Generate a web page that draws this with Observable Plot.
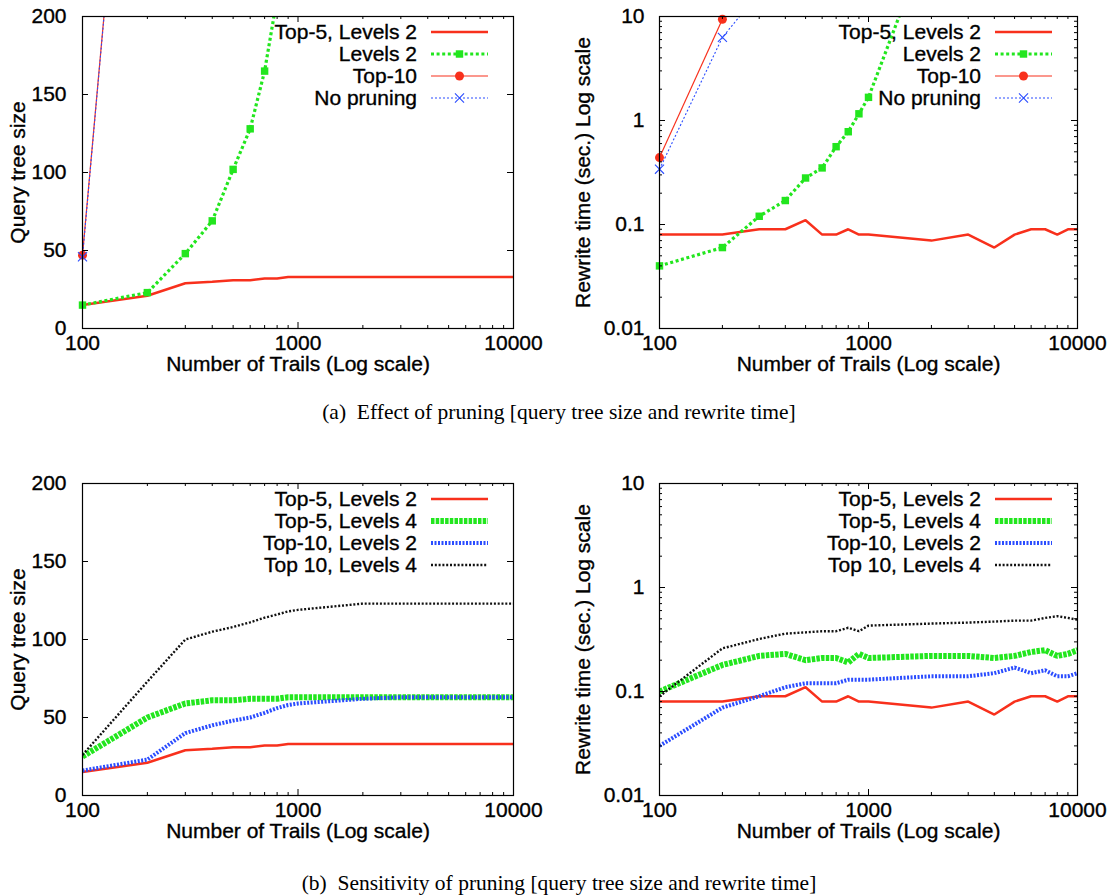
<!DOCTYPE html>
<html>
<head>
<meta charset="utf-8">
<script src="https://cdn.jsdelivr.net/npm/d3@7"></script>
<script src="https://cdn.jsdelivr.net/npm/@observablehq/plot@0.6"></script>
<style>
  body { margin: 0; background: #fff; }
  #fig { position: relative; width: 1118px; height: 896px; background: #fff; }
  .panel { position: absolute; }
  #fig svg text { stroke: #000; stroke-width: 0.35px; }
  .cap { position: absolute; left: 0; width: 1118px; text-align: center;
         font-family: "Liberation Serif", "Times New Roman", serif; font-size: 21.5px; line-height: 24px; color: #000; }
</style>
</head>
<body>
<div id="fig"></div>
<script>
// ---- tick values ----
const xMajor = [100, 1000, 10000];
const xMinor = [200, 300, 400, 500, 600, 700, 800, 900, 2000, 3000, 4000, 5000, 6000, 7000, 8000, 9000];
const sizeMajor = [0, 50, 100, 150, 200];
const timeMajor = [0.01, 0.1, 1, 10];
const timeMinor = [0.02, 0.03, 0.04, 0.05, 0.06, 0.07, 0.08, 0.09,
                   0.2, 0.3, 0.4, 0.5, 0.6, 0.7, 0.8, 0.9,
                   2, 3, 4, 5, 6, 7, 8, 9];

// ---- number of trails ----
const trails = [100, 200, 300, 400, 500, 600, 700, 800, 900, 1000,
                2000, 3000, 4000, 5000, 6000, 7000, 8000, 9000, 10000];
const trailsLevels2Size = [100, 200, 300, 400, 500, 600, 700, 800];
const trailsLevels2Time = [100, 200, 300, 400, 500, 600, 700, 800, 900, 1000, 2000];
const trailsTop10 = [100, 200];
const trailsNoPruningSize = [100, 200];
const trailsNoPruningTime = [100, 200, 300];

// ---- (a) effect of pruning ----
const sizeTop5L2 = [15, 21, 29, 30, 31, 31, 32, 32, 33, 33, 33, 33, 33, 33, 33, 33, 33, 33, 33];
const sizeLevels2 = [15, 23, 48, 69, 102, 128, 165, 212];
const sizeTop10 = [47, 510];
const sizeNoPruning = [46, 510];

const timeTop5L2 = [0.08, 0.08, 0.09, 0.09, 0.11, 0.08, 0.08, 0.09, 0.08, 0.08,
                    0.07, 0.08, 0.06, 0.08, 0.09, 0.09, 0.08, 0.09, 0.09];
const timeLevels2 = [0.04, 0.06, 0.12, 0.17, 0.28, 0.35, 0.56, 0.78, 1.16, 1.67, 66];
const timeTop10 = [0.44, 9.4];
const timeNoPruning = [0.34, 6.3, 17];

// ---- (b) sensitivity of pruning ----
const sizeTop5L4 = [25, 50, 59, 61, 61, 62, 62, 62, 63, 63, 63, 63, 63, 63, 63, 63, 63, 63, 63];
const sizeTop10L2 = [16, 23, 40, 45, 48, 50, 53, 56, 58, 59, 62, 63, 63, 63, 63, 63, 63, 63, 63];
const sizeTop10L4 = [26, 73, 100, 105, 108, 111, 114, 116, 118, 119, 123, 123, 123, 123, 123, 123, 123, 123, 123];

const timeTop5L4 = [0.10, 0.18, 0.22, 0.23, 0.20, 0.21, 0.21, 0.19, 0.23, 0.21,
                    0.22, 0.22, 0.21, 0.22, 0.24, 0.25, 0.22, 0.23, 0.25];
const timeTop10L2 = [0.03, 0.07, 0.09, 0.11, 0.12, 0.12, 0.12, 0.13, 0.13, 0.13,
                     0.14, 0.14, 0.15, 0.17, 0.15, 0.16, 0.14, 0.14, 0.15];
const timeTop10L4 = [0.09, 0.26, 0.32, 0.36, 0.37, 0.38, 0.38, 0.41, 0.38, 0.43,
                     0.45, 0.46, 0.47, 0.48, 0.48, 0.51, 0.53, 0.51, 0.49];

// ---- styles ----
const RED = "#f8301c", GREEN = "#22e61e", BLUE = "#2a4cff", BLACK = "#111";
const FONT = "'Liberation Sans', Arial, sans-serif";
const FS = 21;

const styleTop5L2 = {label: "Top-5, Levels 2", color: RED, width: 2.5};
const styleLevels2 = {label: "Levels 2", color: GREEN, width: 3.2, dash: "3,2.6", symbol: "square", r: 4.2};
const styleTop10 = {label: "Top-10", color: RED, width: 1.2, symbol: "circle", r: 4.5};
const styleNoPruning = {label: "No pruning", color: BLUE, width: 1.1, dash: "2,2", symbol: "times", r: 4.2};
const styleTop5L4 = {label: "Top-5, Levels 4", color: GREEN, width: 6, dash: "3.5,1.2"};
const styleTop10L2 = {label: "Top-10, Levels 2", color: BLUE, width: 4, dash: "2,1.5"};
const styleTop10L4 = {label: "Top 10, Levels 4", color: BLACK, width: 2.4, dash: "2,1.8"};

const rows = (xs, ys) => xs.map((x, i) => ({x, y: ys[i]}));

function panel({left, top, ml, mr, yType, yDomain, yMajor, yMinor, ylabel, ylabelDx, ytickDx, series}) {
  const W = 559, H = 392, mt = 16, mb = 64;
  const fw = W - ml - mr, fh = H - mt - mb;
  const inRange = d => d.y >= yDomain[0] && d.y <= yDomain[1];
  const marks = [];
  for (const s of series) {
    const data = rows(s.x, s.y);
    // lines leave the frame, so they are clipped to it
    marks.push(Plot.line(data, {x: "x", y: "y", stroke: s.color, strokeWidth: s.width,
      strokeDasharray: s.dash, strokeLinecap: "butt", strokeLinejoin: "miter", clip: true}));
    // point symbols are drawn whole, but only for values inside the y range
    if (s.symbol) {
      const filled = s.symbol !== "times";
      marks.push(Plot.dot(data, {x: "x", y: "y", filter: inRange, symbol: s.symbol, r: s.r,
        fill: filled ? s.color : "none", stroke: filled ? "none" : s.color,
        strokeWidth: filled ? 0 : 1.1}));
    }
  }
  // inward ticks on all four sides
  const tk = {stroke: "#000", strokeWidth: 1};
  marks.push(
    Plot.tickX(xMajor, {x: d => d, insetTop: fh - 6, ...tk}),
    Plot.tickX(xMajor, {x: d => d, insetBottom: fh - 6, ...tk}),
    Plot.tickX(xMinor, {x: d => d, insetTop: fh - 3, ...tk}),
    Plot.tickX(xMinor, {x: d => d, insetBottom: fh - 3, ...tk}),
    Plot.tickY(yMajor, {y: d => d, insetRight: fw - 6, ...tk}),
    Plot.tickY(yMajor, {y: d => d, insetLeft: fw - 6, ...tk})
  );
  if (yMinor) marks.push(
    Plot.tickY(yMinor, {y: d => d, insetRight: fw - 3, ...tk}),
    Plot.tickY(yMinor, {y: d => d, insetLeft: fw - 3, ...tk})
  );
  marks.push(
    Plot.frame({stroke: "#000", strokeWidth: 1.2}),
    Plot.text(xMajor, {x: d => d, text: d => String(d), frameAnchor: "bottom", dy: 21}),
    Plot.text(yMajor, {y: d => d, text: d => String(d), frameAnchor: "left", dx: ytickDx, textAnchor: "end"}),
    Plot.text(["Number of Trails (Log scale)"], {frameAnchor: "bottom", dy: 42, textAnchor: "middle"}),
    Plot.text([ylabel], {frameAnchor: "left", dx: ylabelDx, rotate: -90, textAnchor: "middle"})
  );
  const svg = Plot.plot({
    width: W, height: H,
    marginLeft: ml, marginRight: mr, marginTop: mt, marginBottom: mb,
    x: {type: "log", domain: [100, 10000], axis: null},
    y: {type: yType, domain: yDomain, axis: null},
    style: {fontFamily: FONT, fontSize: FS + "px", color: "#000", background: "transparent", overflow: "visible"},
    marks
  });

  // key in the upper right corner of the frame
  const g = d3.select(svg).append("g")
    .attr("font-family", FONT).attr("font-size", FS).attr("fill", "#000");
  const xr = W - mr;
  const sx1 = xr - 82, sx2 = xr - 25, sxm = (sx1 + sx2) / 2;
  series.forEach((s, i) => {
    const y = mt + 16 + i * 22;
    g.append("text").attr("x", xr - 96).attr("y", y).attr("dy", "0.35em")
      .attr("text-anchor", "end").text(s.label);
    g.append("line").attr("x1", sx1).attr("x2", sx2).attr("y1", y).attr("y2", y)
      .attr("stroke", s.color).attr("stroke-width", s.width)
      .attr("stroke-dasharray", s.dash || null);
    if (s.symbol) {
      const type = {square: d3.symbolSquare, circle: d3.symbolCircle, times: d3.symbolTimes}[s.symbol];
      const filled = s.symbol !== "times";
      g.append("path").attr("transform", `translate(${sxm},${y})`)
        .attr("d", d3.symbol(type, Math.PI * s.r * s.r)())
        .attr("fill", filled ? s.color : "none")
        .attr("stroke", filled ? "none" : s.color)
        .attr("stroke-width", filled ? 0 : 1.1);
    }
  });

  const wrap = document.createElement("div");
  wrap.className = "panel";
  wrap.style.left = left + "px";
  wrap.style.top = top + "px";
  wrap.appendChild(svg);
  return wrap;
}

const fig = document.getElementById("fig");

fig.appendChild(panel({
  left: 0, top: 0, ml: 82, mr: 46, yType: "linear", yDomain: [0, 200],
  yMajor: sizeMajor, ylabel: "Query tree size", ylabelDx: -64, ytickDx: -16,
  series: [
    {...styleTop5L2, x: trails, y: sizeTop5L2},
    {...styleLevels2, x: trailsLevels2Size, y: sizeLevels2},
    {...styleTop10, x: trailsTop10, y: sizeTop10},
    {...styleNoPruning, x: trailsNoPruningSize, y: sizeNoPruning}
  ]
}));

fig.appendChild(panel({
  left: 559, top: 0, ml: 100, mr: 41, yType: "log", yDomain: [0.01, 10],
  yMajor: timeMajor, yMinor: timeMinor, ylabel: "Rewrite time (sec.) Log scale", ylabelDx: -76, ytickDx: -15,
  series: [
    {...styleTop5L2, x: trails, y: timeTop5L2},
    {...styleLevels2, x: trailsLevels2Time, y: timeLevels2},
    {...styleTop10, x: trailsTop10, y: timeTop10},
    {...styleNoPruning, x: trailsNoPruningTime, y: timeNoPruning}
  ]
}));

fig.appendChild(panel({
  left: 0, top: 467, ml: 82, mr: 46, yType: "linear", yDomain: [0, 200],
  yMajor: sizeMajor, ylabel: "Query tree size", ylabelDx: -64, ytickDx: -16,
  series: [
    {...styleTop5L2, x: trails, y: sizeTop5L2},
    {...styleTop5L4, x: trails, y: sizeTop5L4},
    {...styleTop10L2, x: trails, y: sizeTop10L2},
    {...styleTop10L4, x: trails, y: sizeTop10L4}
  ]
}));

fig.appendChild(panel({
  left: 559, top: 467, ml: 100, mr: 41, yType: "log", yDomain: [0.01, 10],
  yMajor: timeMajor, yMinor: timeMinor, ylabel: "Rewrite time (sec.) Log scale", ylabelDx: -76, ytickDx: -15,
  series: [
    {...styleTop5L2, x: trails, y: timeTop5L2},
    {...styleTop5L4, x: trails, y: timeTop5L4},
    {...styleTop10L2, x: trails, y: timeTop10L2},
    {...styleTop10L4, x: trails, y: timeTop10L4}
  ]
}));

const capA = document.createElement("div");
capA.className = "cap";
capA.style.top = "400px";
capA.textContent = "(a)\u00a0 Effect of pruning [query tree size and rewrite time]";
fig.appendChild(capA);

const capB = document.createElement("div");
capB.className = "cap";
capB.style.top = "871px";
capB.textContent = "(b)\u00a0 Sensitivity of pruning [query tree size and rewrite time]";
fig.appendChild(capB);
</script>
</body>
</html>
